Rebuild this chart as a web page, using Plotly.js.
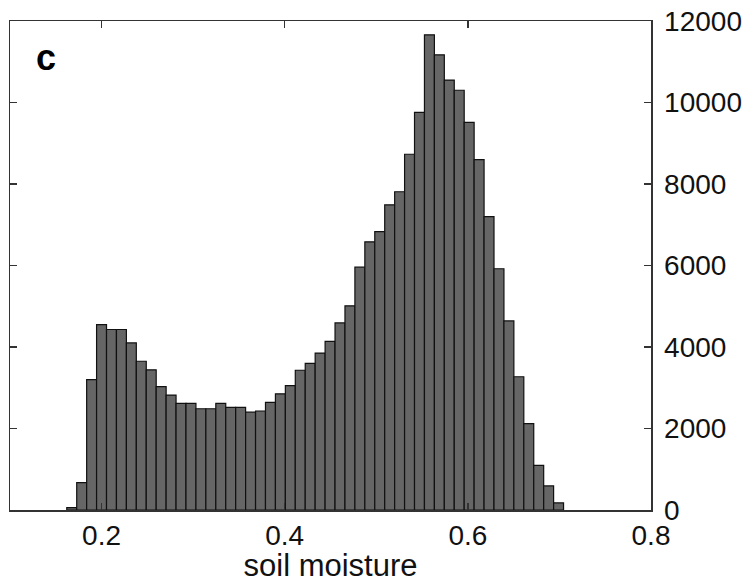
<!DOCTYPE html>
<html>
<head>
<meta charset="utf-8">
<script src="https://cdn.plot.ly/plotly-3.0.1.min.js"></script>
<style>
  html, body { margin: 0; padding: 0; background: #ffffff; }
  #chart { width: 749px; height: 583px; }
</style>
</head>
<body>
<div id="chart"></div>
<script>
// Histogram of soil moisture (panel c)
const binStart = 0.162;      // left edge of first bin
const binWidth = 0.01085;    // bin width
const counts = [60, 670, 3200, 4550, 4430, 4430, 4100, 3650, 3440, 3030,
                2820, 2615, 2615, 2485, 2485, 2615, 2520, 2520, 2400, 2430,
                2640, 2850, 3050, 3430, 3600, 3850, 4140, 4590, 5010, 5960,
                6580, 6830, 7490, 7810, 8730, 9760, 11660, 11170, 10550, 10300,
                9510, 8600, 7200, 5920, 4640, 3270, 2120, 1095, 590, 175];
const xTickVals = [0.2, 0.4, 0.6, 0.8];
const xTickText = ['0.2', '0.4', '0.6', '0.8'];
const yTickVals = [0, 2000, 4000, 6000, 8000, 10000, 12000];
const yTickText = ['0', '2000', '4000', '6000', '8000', '10000', '12000'];
const panelLabel = 'c';
const xTitle = 'soil moisture';

const fontFam = '"Liberation Sans", Arial, Helvetica, sans-serif';

const trace = {
  type: 'bar',
  x0: binStart + binWidth / 2,
  dx: binWidth,
  y: counts,
  width: binWidth,
  marker: { color: '#666666', line: { color: '#111111', width: 1.2 } },
  hoverinfo: 'x+y'
};

const layout = {
  width: 749,
  height: 583,
  margin: { l: 10, r: 98, t: 21, b: 73, pad: 0 },
  paper_bgcolor: '#ffffff',
  plot_bgcolor: '#ffffff',
  showlegend: false,
  bargap: 0,
  font: { family: fontFam, color: '#000000', size: 28 },
  xaxis: {
    range: [0.1, 0.8],
    tickvals: xTickVals,
    ticktext: xTickText,
    ticks: 'inside',
    ticklen: 7,
    tickwidth: 1.3,
    tickcolor: '#333333',
    showline: true,
    linecolor: '#333333',
    linewidth: 1.5,
    mirror: 'ticks',
    showgrid: false,
    zeroline: false,
    ticklabelstandoff: 0,
    tickfont: { family: fontFam, size: 28, color: '#111111' },
    title: { text: xTitle, font: { family: fontFam, size: 31, color: '#111111' }, standoff: 2 }
  },
  yaxis: {
    side: 'right',
    range: [0, 12000],
    tickvals: yTickVals,
    ticktext: yTickText,
    ticks: 'inside',
    ticklen: 7,
    tickwidth: 1.3,
    tickcolor: '#333333',
    showline: true,
    linecolor: '#333333',
    linewidth: 1.5,
    mirror: 'ticks',
    showgrid: false,
    zeroline: false,
    ticklabelstandoff: 6,
    tickfont: { family: fontFam, size: 28, color: '#111111' }
  },
  annotations: [{
    text: '<b>' + panelLabel + '</b>',
    xref: 'paper', yref: 'paper',
    x: 0.056, y: 0.925,
    xanchor: 'center', yanchor: 'middle',
    showarrow: false,
    font: { family: fontFam, size: 36, color: '#000000' }
  }]
};

Plotly.newPlot('chart', [trace], layout, { staticPlot: true, displayModeBar: false });
</script>
</body>
</html>
